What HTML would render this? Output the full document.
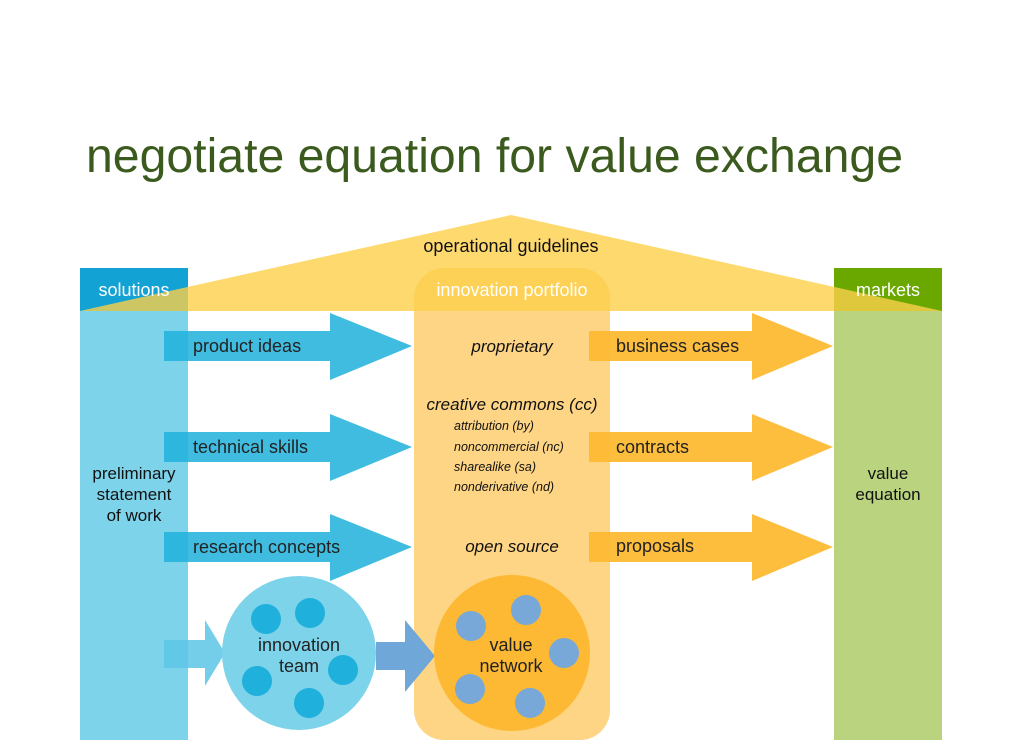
<!DOCTYPE html>
<html><head><meta charset="utf-8"><style>
html,body{margin:0;padding:0;background:#fff;}
svg{display:block;font-family:"Liberation Sans",sans-serif;}
</style></head><body>
<svg width="1024" height="748" viewBox="0 0 1024 748" xmlns="http://www.w3.org/2000/svg">
<text x="86" y="172" font-size="48" fill="#3b5a1e" textLength="817" lengthAdjust="spacingAndGlyphs">negotiate equation for value exchange</text>
<!-- columns -->
<rect x="80" y="268" width="108" height="43" fill="#12a2d3"/>
<rect x="80" y="311" width="108" height="429" fill="#7dd3ea"/>
<rect x="834" y="268" width="108" height="43" fill="#6aa800"/>
<rect x="834" y="311" width="108" height="429" fill="#b9d37f"/>
<!-- portfolio -->
<rect x="414" y="268" width="196" height="472" rx="30" fill="#fdb933" opacity="0.6"/>
<!-- triangle -->
<polygon points="80,311 511,215 942,311" fill="#fdcf4a" opacity="0.8"/>
<text x="511" y="252" font-size="18" text-anchor="middle" fill="#111">operational guidelines</text>
<text x="134" y="296" font-size="18" text-anchor="middle" fill="#fff">solutions</text>
<text x="888" y="296" font-size="18" text-anchor="middle" fill="#fff">markets</text>
<text x="512" y="296" font-size="18" text-anchor="middle" fill="#fff">innovation portfolio</text>
<!-- blue arrows -->
<g fill="#1eb0dc" opacity="0.85">
<polygon points="164,331 330,331 330,313 412,346 330,380 330,361 164,361"/>
<polygon points="164,432 330,432 330,414 412,447 330,481 330,462 164,462"/>
<polygon points="164,532 330,532 330,514 412,547 330,581 330,562 164,562"/>
</g>
<g fill="#fdb933" opacity="0.95">
<polygon points="589,331 752,331 752,313 833,346 752,380 752,361 589,361"/>
<polygon points="589,432 752,432 752,414 833,447 752,481 752,462 589,462"/>
<polygon points="589,532 752,532 752,514 833,547 752,581 752,562 589,562"/>
</g>
<g font-size="18" fill="#222">
<text x="193" y="352">product ideas</text>
<text x="193" y="453">technical skills</text>
<text x="193" y="553">research concepts</text>
<text x="616" y="352">business cases</text>
<text x="616" y="453">contracts</text>
<text x="616" y="552">proposals</text>
</g>
<g font-size="17" font-style="italic" fill="#111" text-anchor="middle">
<text x="512" y="352">proprietary</text>
<text x="512" y="410">creative commons (cc)</text>
<text x="512" y="552">open source</text>
</g>
<g font-size="12.5" font-style="italic" fill="#111">
<text x="454" y="430">attribution (by)</text>
<text x="454" y="451">noncommercial (nc)</text>
<text x="454" y="471">sharealike (sa)</text>
<text x="454" y="491">nonderivative (nd)</text>
</g>
<g font-size="17" fill="#111" text-anchor="middle">
<text x="134" y="479">preliminary</text>
<text x="134" y="500">statement</text>
<text x="134" y="521">of work</text>
<text x="888" y="479">value</text>
<text x="888" y="500">equation</text>
</g>
<!-- bottom -->
<polygon points="164,640 205,640 205,620 225,653 205,686 205,668 164,668" fill="#5cc6e6" opacity="0.85"/>
<circle cx="299" cy="653" r="77" fill="#7dd3ea"/>
<g fill="#1fb0dc">
<circle cx="266" cy="619" r="15"/><circle cx="310" cy="613" r="15"/>
<circle cx="343" cy="670" r="15"/><circle cx="257" cy="681" r="15"/>
<circle cx="309" cy="703" r="15"/>
</g>
<polygon points="376,642 405,642 405,620 435,656 405,692 405,670 376,670" fill="#6fa8d8"/>
<circle cx="512" cy="653" r="78" fill="#fdb933"/>
<g fill="#77a8d8">
<circle cx="471" cy="626" r="15"/><circle cx="526" cy="610" r="15"/>
<circle cx="564" cy="653" r="15"/><circle cx="470" cy="689" r="15"/>
<circle cx="530" cy="703" r="15"/>
</g>
<g font-size="18" fill="#222" text-anchor="middle">
<text x="299" y="651">innovation</text>
<text x="299" y="672">team</text>
<text x="511" y="651">value</text>
<text x="511" y="672">network</text>
</g>
</svg>
</body></html>
